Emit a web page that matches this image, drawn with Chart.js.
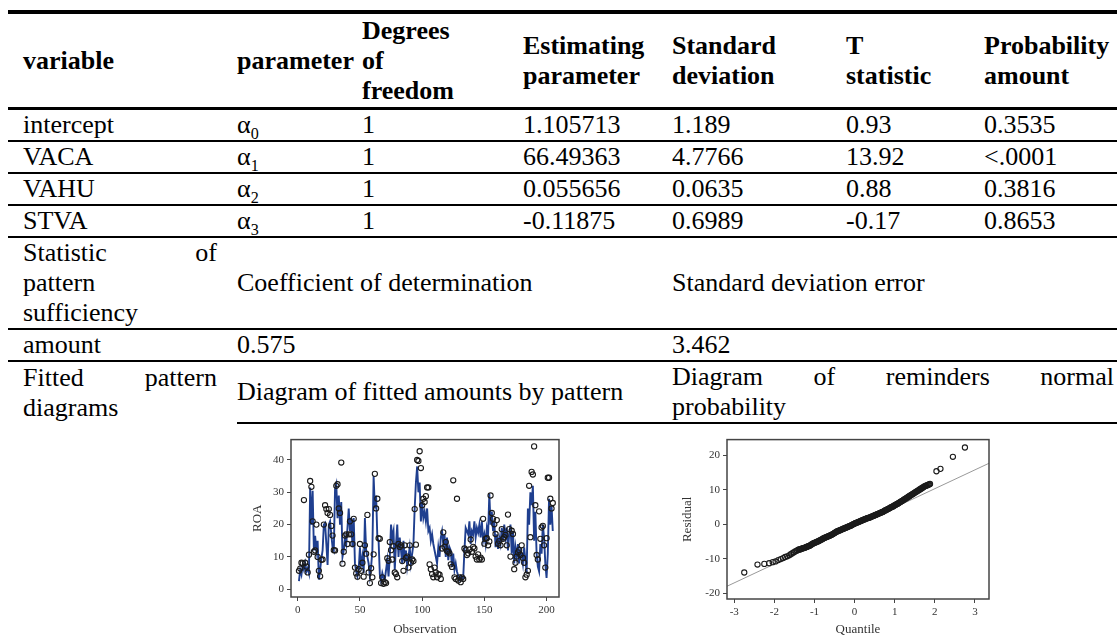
<!DOCTYPE html>
<html>
<head>
<meta charset="utf-8">
<script src="https://cdn.jsdelivr.net/npm/chart.js@4.4.1/dist/chart.umd.min.js"></script>
<style>
html, body { margin: 0; padding: 0; background: #fff; }
#page { position: relative; width: 1117px; height: 637px; overflow: hidden; font-family: "Liberation Serif", "Times New Roman", serif; color: #000; }
table { position: absolute; left: 8px; top: 10px; width: 1109px; border-collapse: separate; border-spacing: 0; table-layout: fixed; font-size: 26px; line-height: 30px; }
td { padding: 0; vertical-align: middle; text-align: left; white-space: nowrap; border-bottom: 2px solid #000; }
thead td { font-weight: bold; border-top: 4px solid #000; border-bottom: 3px solid #000; height: 93px; }
td.c1 { padding-left: 15px; padding-right: 20px; }
td.nob { border-bottom: none; }
td.pr { padding-right: 3px; }
sub { font-size: 0.62em; line-height: 0; }
.just { display: flex; justify-content: space-between; }
canvas { position: absolute; }
</style>
</head>
<body>
<div id="page">
<table>
<colgroup>
<col style="width:229px"><col style="width:125px"><col style="width:161px"><col style="width:149px"><col style="width:174px"><col style="width:138px"><col style="width:133px">
</colgroup>
<thead>
<tr>
<td class="c1">variable</td><td>parameter</td><td>Degrees<br>of<br>freedom</td><td>Estimating<br>parameter</td><td>Standard<br>deviation</td><td>T<br>statistic</td><td>Probability<br>amount</td>
</tr>
</thead>
<tbody>
<tr><td class="c1">intercept</td><td>α<sub>0</sub></td><td>1</td><td>1.105713</td><td>1.189</td><td>0.93</td><td>0.3535</td></tr>
<tr><td class="c1">VACA</td><td>α<sub>1</sub></td><td>1</td><td>66.49363</td><td>4.7766</td><td>13.92</td><td>&lt;.0001</td></tr>
<tr><td class="c1">VAHU</td><td>α<sub>2</sub></td><td>1</td><td>0.055656</td><td>0.0635</td><td>0.88</td><td>0.3816</td></tr>
<tr><td class="c1">STVA</td><td>α<sub>3</sub></td><td>1</td><td>-0.11875</td><td>0.6989</td><td>-0.17</td><td>0.8653</td></tr>
<tr>
<td class="c1"><div class="just"><span>Statistic</span><span>of</span></div><div>pattern</div><div>sufficiency</div></td>
<td colspan="3">Coefficient of determination</td>
<td colspan="3">Standard deviation error</td>
</tr>
<tr><td class="c1">amount</td><td colspan="3">0.575</td><td colspan="3">3.462</td></tr>
<tr>
<td class="c1 nob"><div class="just"><span>Fitted</span><span>pattern</span></div><div>diagrams</div></td>
<td colspan="3">Diagram of fitted amounts by pattern</td>
<td colspan="3" class="pr"><div class="just"><span>Diagram</span><span>of</span><span>reminders</span><span>normal</span></div><div>probability</div></td>
</tr>
</tbody>
</table>
<canvas id="fit" width="330" height="207" style="left:240px;top:430px"></canvas>
<canvas id="qq" width="330" height="207" style="left:670px;top:430px"></canvas>
</div>
<script>
// ROA by observation (points) and fitted values (blue line)
const roa = [
    5.7, 6.4, 8.2, 8.0, 27.6, 8.2, 7.0, 5.2, 10.7, 33.5,
    31.7, 21.0, 11.6, 12.0, 20.0, 10.0, 5.7, 4.0, 9.1, 9.2,
    20.0, 26.0, 24.8, 23.6, 24.8, 23.0, 19.6, 16.6, 12.1, 12.0,
    32.0, 32.5, 25.0, 23.6, 39.2, 7.9, 11.6, 16.6, 17.0, 14.0,
    17.0, 21.0, 17.0, 14.0, 21.8, 6.7, 4.9, 3.9, 6.2, 14.0,
    5.7, 8.2, 3.9, 13.6, 11.0, 23.0, 5.2, 1.9, 6.5, 3.7,
    10.8, 35.7, 25.0, 28.0, 15.8, 15.6, 1.9, 3.7, 1.7, 2.2,
    1.9, 9.6, 8.8, 14.6, 12.1, 9.2, 13.3, 5.2, 4.7, 3.7,
    14.0, 13.1, 13.6, 8.7, 5.7, 13.6, 9.7, 10.1, 6.7, 13.6,
    8.2, 9.2, 8.7, 24.8, 13.8, 40.0, 39.7, 42.7, 37.5, 26.0,
    28.0, 27.0, 28.8, 31.5, 31.5, 7.7, 6.2, 4.7, 3.7, 6.7,
    5.2, 3.7, 4.7, 4.5, 3.2, 12.6, 17.6, 13.1, 14.6, 11.8,
    11.6, 11.1, 7.7, 6.9, 33.7, 3.7, 3.2, 28.0, 2.7, 3.7,
    2.2, 3.7, 3.2, 12.6, 12.1, 10.6, 11.1, 12.3, 15.4, 11.6,
    13.1, 12.6, 10.1, 9.2, 10.8, 9.2, 9.8, 9.2, 21.8, 14.1,
    15.6, 15.8, 13.6, 14.8, 29.0, 23.6, 21.8, 20.1, 17.1, 21.4,
    14.1, 14.9, 13.6, 18.6, 15.6, 16.1, 16.8, 13.6, 23.1, 18.6,
    10.1, 18.1, 17.1, 6.2, 8.2, 10.1, 11.4, 12.1, 10.6, 13.6,
    9.7, 8.2, 3.7, 4.5, 5.7, 32.0, 16.1, 36.3, 35.5, 44.2,
    26.0, 10.6, 9.2, 24.1, 15.6, 19.1, 19.6, 13.6, 6.7, 15.8,
    34.5, 34.5, 28.0, 25.0, 26.7
];
const fitted = [
    2.5, 6.0, 4.5, 7.5, 6.0, 8.0, 5.5, 6.5, 5.0, 31.5,
    20.0, 30.5, 12.0, 16.5, 12.0, 15.0, 3.0, 6.0, 9.5, 12.0,
    20.0, 20.5, 14.0, 7.5, 20.0, 21.0, 17.0, 13.0, 12.0, 31.0,
    32.5, 22.0, 29.0, 20.0, 27.0, 10.0, 12.0, 16.0, 14.0, 19.0,
    25.0, 18.0, 22.0, 13.0, 22.0, 8.0, 5.5, 4.0, 6.0, 13.0,
    7.0, 10.0, 5.0, 22.0, 12.0, 10.0, 8.0, 4.0, 7.0, 12.0,
    35.0, 25.0, 29.0, 16.0, 15.0, 4.5, 2.5, 5.0, 3.5, 3.0,
    6.0, 9.0, 4.0, 10.0, 20.0, 16.0, 18.0, 6.0, 14.0, 20.0,
    10.0, 16.0, 12.0, 8.0, 15.0, 8.5, 12.0, 7.0, 10.0, 13.0,
    8.0, 11.0, 14.0, 25.0, 33.0, 38.0, 30.0, 33.0, 21.0, 27.0,
    22.0, 24.0, 21.0, 25.0, 18.0, 19.0, 15.0, 17.0, 14.0, 12.0,
    10.0, 8.0, 13.0, 10.0, 16.0, 18.0, 14.0, 17.0, 10.0, 16.0,
    9.0, 13.0, 12.0, 7.0, 11.0, 6.0, 8.0, 5.5, 4.0, 3.0,
    4.0, 3.0, 3.5, 12.0, 19.0, 18.0, 17.0, 21.0, 14.0, 18.0,
    17.0, 21.0, 16.0, 19.0, 17.5, 20.0, 16.0, 21.0, 15.0, 17.0,
    14.0, 19.0, 17.0, 29.5, 20.0, 24.0, 18.0, 21.0, 13.0, 17.0,
    12.5, 16.0, 14.0, 19.0, 15.0, 20.0, 16.0, 19.0, 12.0, 17.0,
    20.0, 11.0, 18.0, 8.0, 13.0, 10.0, 14.0, 8.0, 12.0, 11.0,
    8.0, 13.0, 9.0, 5.0, 25.0, 20.0, 30.0, 26.0, 32.0, 15.0,
    24.0, 11.0, 7.0, 5.5, 14.0, 11.0, 20.0, 16.0, 8.0, 3.5,
    11.0, 28.0, 20.0, 26.0, 18.0
];
const fitXTicks = [0, 50, 100, 150, 200];
const fitYTicks = [0, 10, 20, 30, 40];

// residual normal probability plot
const qqQuantile = [
    -2.75, -2.42, -2.25, -2.13, -2.04, -1.97, -1.90, -1.84, -1.78, -1.73,
    -1.68, -1.63, -1.59, -1.55, -1.51, -1.47, -1.43,
    -1.40, -1.38, -1.36, -1.34, -1.32, -1.30, -1.28, -1.26, -1.24, -1.22,
    -1.20, -1.18, -1.16, -1.14, -1.12, -1.10, -1.08, -1.06, -1.04, -1.02,
    -1.00, -0.98, -0.96, -0.94, -0.92, -0.90, -0.88, -0.86, -0.84, -0.82,
    -0.80, -0.78, -0.76, -0.74, -0.72, -0.70, -0.68, -0.66, -0.64, -0.62,
    -0.60, -0.58, -0.56, -0.54, -0.52, -0.50, -0.48, -0.46, -0.44, -0.42,
    -0.40, -0.38, -0.36, -0.34, -0.32, -0.30, -0.28, -0.26, -0.24, -0.22,
    -0.20, -0.18, -0.16, -0.14, -0.12, -0.10, -0.08, -0.06, -0.04, -0.02,
    0.00, 0.02, 0.04, 0.06, 0.08, 0.10, 0.12, 0.14, 0.16, 0.18,
    0.20, 0.22, 0.24, 0.26, 0.28, 0.30, 0.32, 0.34, 0.36, 0.38,
    0.40, 0.42, 0.44, 0.46, 0.48, 0.50, 0.52, 0.54, 0.56, 0.58,
    0.60, 0.62, 0.64, 0.66, 0.68, 0.70, 0.72, 0.74, 0.76, 0.78,
    0.80, 0.82, 0.84, 0.86, 0.88, 0.90, 0.92, 0.94, 0.96, 0.98,
    1.00, 1.02, 1.04, 1.06, 1.08, 1.10, 1.12, 1.14, 1.16, 1.18,
    1.20, 1.22, 1.24, 1.26, 1.28, 1.30, 1.32, 1.34, 1.36, 1.38,
    1.40, 1.42, 1.44, 1.46, 1.48, 1.50, 1.52, 1.54, 1.56, 1.58,
    1.60, 1.62, 1.64, 1.66, 1.68, 1.70, 1.72, 1.74, 1.76, 1.78,
    1.80, 1.82, 1.84, 1.86, 1.88,
    2.04, 2.14, 2.45, 2.75
];
const qqResidual = [
    -14.0, -11.7, -11.5, -11.3, -11.0, -10.8, -10.4, -10.1, -9.8, -9.5,
    -9.3, -9.0, -8.7, -8.4, -8.1, -7.8, -7.6,
    -7.4, -7.3, -7.3, -7.2, -7.1, -7.0, -6.9, -6.9, -6.8, -6.7,
    -6.6, -6.5, -6.4, -6.3, -6.2, -6.1, -5.9, -5.8, -5.6, -5.5,
    -5.4, -5.3, -5.2, -5.1, -5.0, -4.9, -4.8, -4.6, -4.5, -4.4,
    -4.3, -4.1, -4.0, -3.9, -3.8, -3.7, -3.6, -3.5, -3.4, -3.3,
    -3.2, -3.1, -3.0, -2.8, -2.7, -2.5, -2.4, -2.2, -2.1, -2.0,
    -1.9, -1.8, -1.7, -1.6, -1.5, -1.4, -1.3, -1.2, -1.1, -1.0,
    -0.9, -0.8, -0.7, -0.6, -0.5, -0.4, -0.3, -0.2, 0.0, 0.1,
    0.2, 0.3, 0.4, 0.5, 0.6, 0.7, 0.8, 0.9, 1.0, 1.1,
    1.2, 1.3, 1.4, 1.5, 1.6, 1.7, 1.8, 1.8, 1.9, 2.0,
    2.1, 2.2, 2.3, 2.4, 2.5, 2.6, 2.7, 2.8, 2.9, 3.0,
    3.1, 3.2, 3.3, 3.4, 3.5, 3.6, 3.7, 3.9, 4.0, 4.1,
    4.2, 4.4, 4.5, 4.6, 4.7, 4.9, 5.0, 5.1, 5.2, 5.4,
    5.5, 5.6, 5.8, 5.9, 6.0, 6.2, 6.3, 6.5, 6.6, 6.8,
    6.9, 7.1, 7.2, 7.4, 7.5, 7.7, 7.8, 8.0, 8.1, 8.3,
    8.4, 8.6, 8.7, 8.9, 9.0, 9.2, 9.3, 9.5, 9.6, 9.8,
    9.9, 10.1, 10.2, 10.4, 10.5, 10.7, 10.8, 11.0, 11.1, 11.2,
    11.3, 11.4, 11.5, 11.6, 11.7,
    15.4, 16.1, 19.6, 22.3
];
const qqLineX = [-3.4, 3.4];
const qqLineY = [-19.2, 18.0];
const qqXTicks = [-3, -2, -1, 0, 1, 2, 3];
const qqYTicks = [-20, -10, 0, 10, 20];

const serif = "'Liberation Serif', 'Times New Roman', serif";

// box round the plot area
const frame = {
    id: "frame",
    afterDraw(chart) {
        let { ctx, chartArea: a } = chart;
        ctx.save();
        ctx.strokeStyle = "#444";
        ctx.lineWidth = 1.5;
        ctx.strokeRect(a.left, a.top, a.right - a.left, a.bottom - a.top);
        ctx.restore();
    },
};

function axis(min, max, ticks, title, size, vertical) {
    return {
        type: "linear",
        min: min,
        max: max,
        afterBuildTicks: (scale) => {
            scale.ticks = ticks.map((v) => ({ value: v }));
        },
        afterFit: (scale) => {
            if (vertical) scale.width = size;
            else scale.height = size;
        },
        grid: { display: true, drawOnChartArea: false, drawTicks: true, tickLength: 4, color: "#444" },
        border: { display: false },
        ticks: { font: { family: serif, size: 11 }, color: "#333", padding: 3, maxRotation: 0, autoSkip: false },
        title: {
            display: true,
            text: title,
            font: { family: serif, size: 13 },
            color: "#333",
            padding: vertical ? { top: 10, bottom: 0 } : { top: 0, bottom: 0 },
        },
    };
}

const common = {
    responsive: false,
    animation: false,
    events: [],
    plugins: { legend: { display: false }, tooltip: { enabled: false } },
};

new Chart(document.getElementById("fit"), {
    type: "scatter",
    data: {
        datasets: [
            {
                data: roa.map((v, i) => ({ x: i + 1, y: v })),
                pointRadius: 2.6,
                pointBorderWidth: 1.1,
                borderColor: "#1b1b1b",
                backgroundColor: "rgba(0,0,0,0)",
                order: 1,
            },
            {
                data: fitted.map((v, i) => ({ x: i + 1, y: v })),
                showLine: true,
                pointRadius: 0,
                borderColor: "#1f3f8f",
                borderWidth: 1.9,
                order: 2,
            },
        ],
    },
    options: {
        ...common,
        layout: { padding: { top: 4, right: 11, left: 0, bottom: 0 } },
        scales: {
            x: axis(-5.4, 210, fitXTicks, "Observation", 40, false),
            y: axis(-2.4, 46.3, fitYTicks, "ROA", 51, true),
        },
    },
    plugins: [frame],
});

new Chart(document.getElementById("qq"), {
    type: "scatter",
    data: {
        datasets: [
            {
                data: qqQuantile.map((q, i) => ({ x: q, y: qqResidual[i] })),
                pointRadius: 2.6,
                pointBorderWidth: 1.1,
                borderColor: "#1b1b1b",
                backgroundColor: "rgba(0,0,0,0)",
                order: 1,
            },
            {
                data: qqLineX.map((q, i) => ({ x: q, y: qqLineY[i] })),
                showLine: true,
                pointRadius: 0,
                borderColor: "#999",
                borderWidth: 1,
                order: 2,
            },
        ],
    },
    options: {
        ...common,
        layout: { padding: { top: 9, right: 11, left: 0, bottom: 0 } },
        scales: {
            x: axis(-3.18, 3.35, qqXTicks, "Quantile", 38, false),
            y: axis(-21.7, 24.6, qqYTicks, "Residual", 57, true),
        },
    },
    plugins: [frame],
});
</script>
</body>
</html>
